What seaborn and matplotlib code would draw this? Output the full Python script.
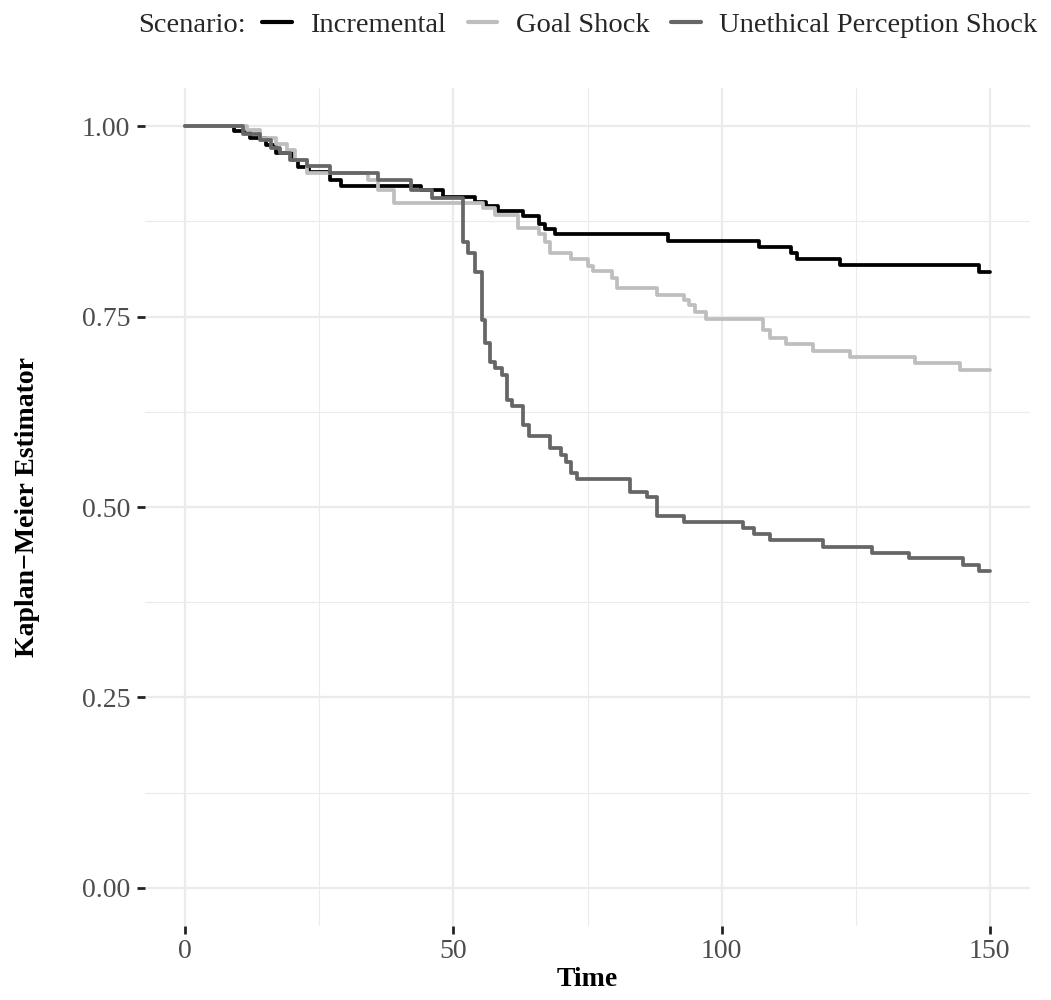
import numpy as np
import pandas as pd
import matplotlib
matplotlib.use("Agg")
import matplotlib.pyplot as plt
import seaborn as sns
from matplotlib.lines import Line2D
from matplotlib.ticker import MultipleLocator

# ---- data ----
scenarios = ["Incremental", "Goal Shock", "Unethical Perception Shock"]

inc_time = [0, 9, 12, 15, 17, 20, 21, 23, 27, 29, 44, 48, 54, 56, 58.3, 63, 66, 67, 69,
            90, 107, 113, 114, 122, 148, 150]
inc_surv = [1.0, 0.993, 0.985, 0.975, 0.965, 0.955, 0.946, 0.94, 0.929, 0.921, 0.916, 0.907,
            0.90, 0.895, 0.888, 0.882, 0.872, 0.865, 0.858, 0.849, 0.841, 0.833, 0.825, 0.818,
            0.809, 0.809]

goal_time = [0, 11.5, 14, 17, 19, 20.5, 22.7, 34, 36, 39, 55.5, 57.7, 62, 66, 67, 68, 72, 75,
             76, 79.5, 80.5, 88, 93, 94, 95, 97, 107.7, 109, 112, 117, 124, 136, 144.5, 150]
goal_surv = [1.0, 0.995, 0.985, 0.977, 0.968, 0.955, 0.938, 0.929, 0.916, 0.899, 0.892, 0.883,
             0.866, 0.859, 0.848, 0.834, 0.825, 0.816, 0.81, 0.8, 0.787, 0.778, 0.772, 0.765,
             0.756, 0.747, 0.732, 0.722, 0.714, 0.705, 0.697, 0.689, 0.68, 0.68]

une_time = [0, 10.8, 14, 16, 17.7, 19.6, 22.7, 27, 36, 42, 46, 51.8, 52.7, 54, 55.3, 55.9,
            56.8, 57.8, 59, 60, 61, 63, 64, 68, 70, 71, 72, 73, 83, 86, 88, 93, 104, 106, 109,
            119, 128, 135, 145, 148, 150]
une_surv = [1.0, 0.99, 0.982, 0.971, 0.965, 0.955, 0.948, 0.938, 0.929, 0.916, 0.905, 0.848,
            0.833, 0.808, 0.745, 0.715, 0.69, 0.682, 0.673, 0.64, 0.633, 0.608, 0.593, 0.577,
            0.568, 0.559, 0.545, 0.537, 0.52, 0.513, 0.488, 0.48, 0.472, 0.464, 0.457, 0.448,
            0.44, 0.433, 0.424, 0.416, 0.416]

colors = ["#000000", "#BEBEBE", "#666666"]

df = pd.concat([
    pd.DataFrame({"Time": inc_time, "Surv": inc_surv, "Scenario": scenarios[0]}),
    pd.DataFrame({"Time": goal_time, "Surv": goal_surv, "Scenario": scenarios[1]}),
    pd.DataFrame({"Time": une_time, "Surv": une_surv, "Scenario": scenarios[2]}),
], ignore_index=True)

sns.set_theme(style="whitegrid")
plt.rcParams["font.family"] = ["Liberation Serif", "DejaVu Serif"]

FS = 20
LFS = 20.5

fig = plt.figure(figsize=(10.51, 10.0), dpi=100)
ax = fig.add_axes([0.138, 0.074, 0.842, 0.838])

sns.lineplot(data=df, x="Time", y="Surv", hue="Scenario", hue_order=scenarios,
             palette=colors, drawstyle="steps-post", estimator=None, sort=False,
             linewidth=2.7, legend=False, ax=ax)

ax.set_xlim(-7.5, 157.5)
ax.set_ylim(-0.05, 1.05)
ax.set_xticks([0, 50, 100, 150])
ax.set_xticklabels(["0", "50", "100", "150"])
ax.set_yticks([0, 0.25, 0.5, 0.75, 1.0])
ax.set_yticklabels(["0.00", "0.25", "0.50", "0.75", "1.00"])
ax.xaxis.set_minor_locator(MultipleLocator(25))
ax.yaxis.set_minor_locator(MultipleLocator(0.125))

ax.grid(True, which="major", color="#EBEBEB", linewidth=1.6)
ax.grid(True, which="minor", color="#EBEBEB", linewidth=0.8)
for s in ax.spines.values():
    s.set_visible(False)
ax.set_facecolor("white")

ax.tick_params(axis="x", which="major", length=5.5, width=2, color="#222222", bottom=True,
               labelsize=FS, labelcolor="#4D4D4D", pad=4, direction="out")
ax.tick_params(axis="y", which="major", length=5.5, width=2, color="#222222", left=True,
               labelsize=FS, labelcolor="#4D4D4D", pad=5, direction="out")
ax.tick_params(axis="both", which="minor", length=0)

ax.set_xlabel("Time", fontsize=FS, fontweight="bold", color="black", labelpad=2)
ax.set_ylabel("Kaplan\u2212Meier Estimator", fontsize=FS, fontweight="bold", color="black",
              labelpad=30)

# legend on top
handles = [Line2D([0], [0], color=c, linewidth=3) for c in colors]
fig.text(138 / 1051, 0.975, "Scenario:", fontsize=LFS, ha="left", va="center")
fig.legend(handles, scenarios, loc="center left", bbox_to_anchor=(262 / 1051, 0.975), ncol=3,
           frameon=False, fontsize=LFS, handlelength=1.05, handletextpad=0.65,
           columnspacing=0.75, borderaxespad=0.0, borderpad=0.0)

fig.savefig("out.png", dpi=100, facecolor="white")
